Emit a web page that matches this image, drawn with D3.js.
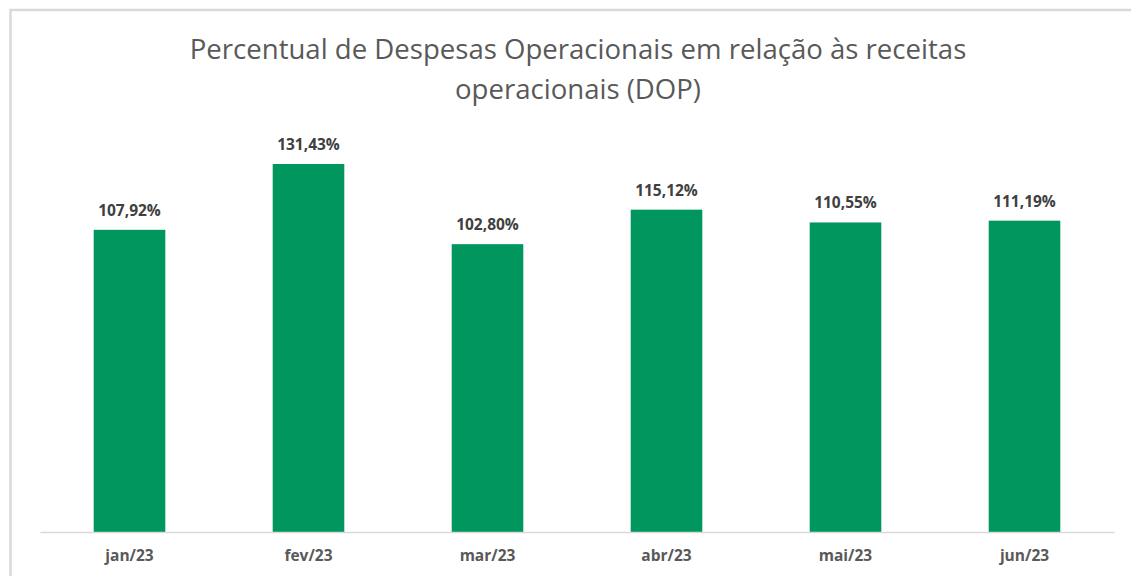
<!DOCTYPE html>
<html>
<head>
<meta charset="utf-8">
<script src="https://cdn.jsdelivr.net/npm/d3@7"></script>
<style>
  body { margin: 0; background: #fff; }
</style>
</head>
<body>
<div id="chart"></div>
<script>
// data
var months = ["jan/23", "fev/23", "mar/23", "abr/23", "mai/23", "jun/23"]
var dop = [107.92, 131.43, 102.80, 115.12, 110.55, 111.19]
var titleLines = ["Percentual de Despesas Operacionais em relação às receitas", "operacionais (DOP)"]

var width = 1131
var height = 576

var svg = d3.select("#chart")
  .append("svg")
    .attr("width", width)
    .attr("height", height)

// chart border (cropped on the right and bottom)
svg.append("rect")
  .attr("x", 10.5)
  .attr("y", 10)
  .attr("width", 1140)
  .attr("height", 600)
  .attr("fill", "#fff")
  .attr("stroke", "#d9d9d9")
  .attr("stroke-width", 2.5)

var x = d3.scaleBand()
  .domain(months)
  .range([40, 1114])
  .paddingInner(0.6)
  .paddingOuter(0.3)

var y = d3.scaleLinear()
  .domain([0, 140])
  .range([532, 140])

// title
var title = svg.append("text")
  .attr("text-anchor", "middle")
  .style("font-family", "'Open Sans', sans-serif")
  .style("fill", "#595959")
  .style("font-size", "25px")

title.selectAll("tspan")
  .data(titleLines)
  .enter()
  .append("tspan")
    .attr("x", 578)
    .attr("y", function(d, i) { return 59 + i * 40 })
    .text(function(d) { return d })

// fit title width to the reference (~777px for first line)
var w = title.select("tspan").node().getComputedTextLength()
title.style("font-size", (25 * 777 / w) + "px")

// bars
svg.selectAll("rect.bar")
  .data(dop)
  .enter()
  .append("rect")
    .attr("class", "bar")
    .attr("x", function(d, i) { return x(months[i]) })
    .attr("y", function(d) { return y(d) })
    .attr("width", x.bandwidth())
    .attr("height", function(d) { return y(0) - y(d) })
    .attr("fill", "#00965e")

// value labels
svg.selectAll("text.val")
  .data(dop)
  .enter()
  .append("text")
    .attr("class", "val")
    .attr("x", function(d, i) { return x(months[i]) + x.bandwidth() / 2 })
    .attr("y", function(d) { return y(d) - 14 })
    .attr("text-anchor", "middle")
    .style("font-family", "'Open Sans', sans-serif")
    .style("font-weight", "bold")
    .style("font-size", "15.5px")
    .style("fill", "#404040")
    .text(function(d) { return d.toFixed(2).replace(".", ",") + "%" })

// x axis
var xAxis = svg.append("g")
  .attr("transform", "translate(0," + y(0) + ")")
  .call(d3.axisBottom(x).tickSize(0).tickPadding(18))

xAxis.select(".domain")
  .attr("stroke", "#d9d9d9")
  .attr("stroke-width", 1.5)

xAxis.selectAll("text")
  .style("font-family", "'Open Sans', sans-serif")
  .style("font-weight", "bold")
  .style("font-size", "15.5px")
  .style("fill", "#595959")
</script>
</body>
</html>
